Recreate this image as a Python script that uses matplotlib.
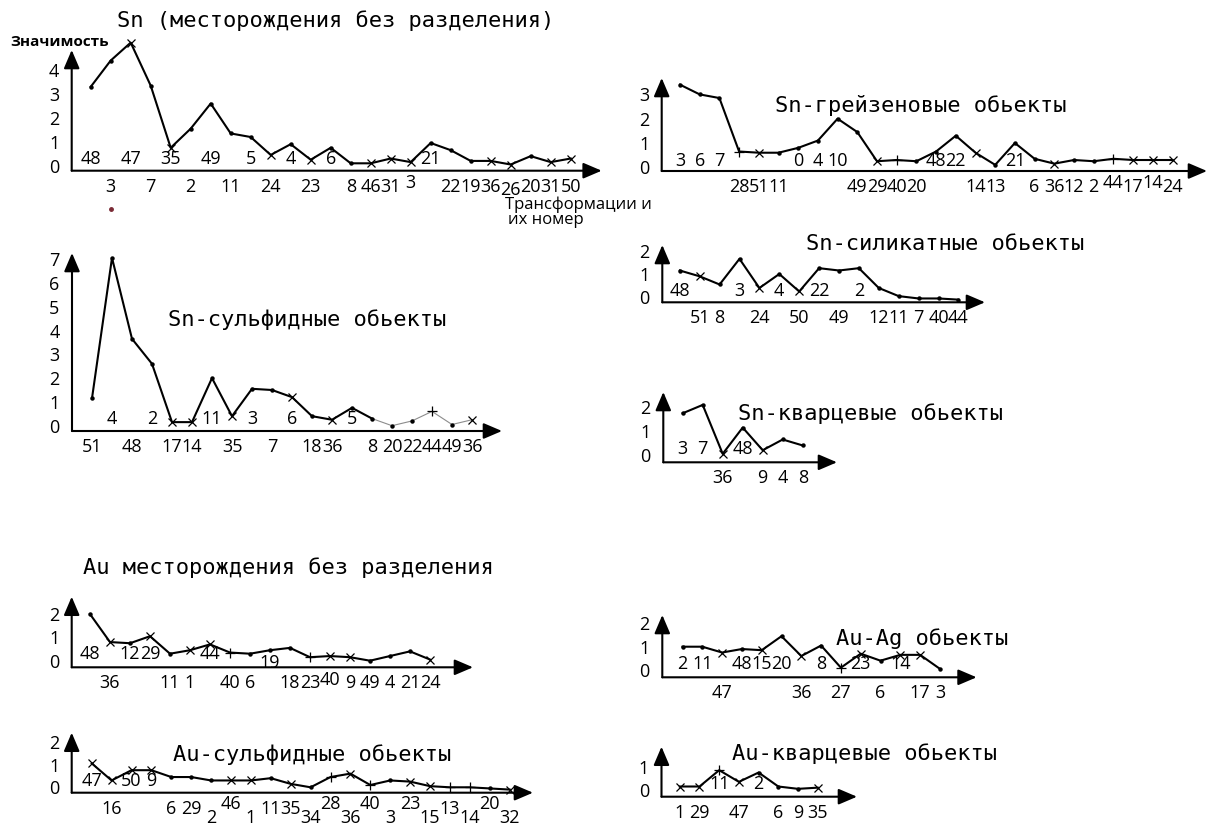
import matplotlib
matplotlib.use('Agg')
import matplotlib.pyplot as plt

W, H = 1215, 826
LABEL_FONT = ['Open Sans', 'DejaVu Sans']
TITLE_FONT = 'DejaVu Sans Mono'

# Sn, all deposits
sn_labels = ['48', '3', '47', '7', '35', '2', '49', '11', '5', '24', '4', '23', '6',
             '8', '46', '31', '3', '21', '22', '19', '36', '26', '20', '31', '50']
sn_values = [3.3, 4.4, 5.15, 3.35, 0.75, 1.55, 2.6, 1.35, 1.2, 0.45, 0.9, 0.25, 0.75,
             0.1, 0.1, 0.3, 0.15, 0.95, 0.65, 0.2, 0.2, 0.05, 0.4, 0.15, 0.3]
sn_marks = '..x.x....x.x..xxx...xx.xx'

# Sn, sulphide objects
sn_sulf_labels = ['51', '4', '48', '2', '17', '14', '11', '35', '3', '7', '6', '18',
                  '36', '5', '8', '20', '22', '44', '49', '36']
sn_sulf_values = [1.15, 7.05, 3.65, 2.6, 0.15, 0.15, 2.0, 0.4, 1.55, 1.5, 1.2, 0.4,
                  0.25, 0.75, 0.3, 0.0, 0.2, 0.6, 0.05, 0.25]
sn_sulf_marks = '....xx.x..x.x....+.x'

# Sn, greisen objects
sn_greis_labels = ['3', '6', '7', '28', '51', '11', '0', '4', '10', '49', '29', '40',
                   '20', '48', '22', '14', '13', '21', '6', '36', '12', '2', '44',
                   '17', '14', '24']
sn_greis_values = [3.4, 3.0, 2.85, 0.65, 0.6, 0.6, 0.8, 1.1, 2.0, 1.45, 0.25, 0.3,
                   0.25, 0.65, 1.3, 0.6, 0.1, 1.0, 0.35, 0.15, 0.3, 0.25, 0.35,
                   0.3, 0.3, 0.3]
sn_greis_marks = '...+x.....x+...x...x..+xxx'

# Sn, silicate objects
sn_sil_labels = ['48', '51', '8', '3', '24', '4', '50', '22', '49', '2', '12', '11',
                 '7', '40', '44']
sn_sil_values = [1.15, 0.9, 0.55, 1.65, 0.4, 1.0, 0.25, 1.25, 1.15, 1.25, 0.4, 0.05,
                 -0.05, -0.05, -0.1]
sn_sil_marks = '.x..x.x........'

# Sn, quartz objects
sn_qz_labels = ['3', '7', '36', '48', '9', '4', '8']
sn_qz_values = [1.75, 2.1, 0.05, 1.15, 0.2, 0.65, 0.4]
sn_qz_marks = '..x.x..'

# Au, all deposits
au_labels = ['48', '36', '12', '29', '11', '1', '44', '40', '6', '19', '18', '23',
             '40', '9', '49', '4', '21', '24']
au_values = [2.0, 0.8, 0.75, 1.05, 0.3, 0.45, 0.7, 0.35, 0.3, 0.45, 0.55, 0.15,
             0.2, 0.15, 0.0, 0.2, 0.4, 0.05]
au_marks = '.x.x.xx+...+xx...x'

# Au, sulphide objects
au_sulf_labels = ['47', '16', '50', '9', '6', '29', '2', '46', '1', '11', '35', '34',
                  '28', '36', '40', '3', '23', '15', '13', '14', '20', '32']
au_sulf_values = [1.05, 0.3, 0.75, 0.75, 0.45, 0.45, 0.3, 0.3, 0.3, 0.4, 0.15, 0.0,
                  0.45, 0.6, 0.1, 0.3, 0.25, 0.05, 0.0, 0.0, -0.05, -0.1]
au_sulf_marks = 'xxxx...xx.x.+x+.xx++.x'

# Au-Ag objects
au_ag_labels = ['2', '11', '47', '48', '15', '20', '36', '8', '27', '23', '6', '14',
                '17', '3']
au_ag_values = [1.0, 1.0, 0.75, 0.9, 0.85, 1.45, 0.6, 1.05, 0.1, 0.7, 0.4, 0.65,
                0.65, 0.05]
au_ag_marks = '..x.x.x.+x.xx.'

# Au, quartz objects
au_qz_labels = ['1', '29', '11', '47', '2', '6', '9', '35']
au_qz_values = [0.15, 0.15, 0.85, 0.35, 0.75, 0.15, 0.05, 0.1]
au_qz_marks = 'xx+x...x'

# label rows: a - above the axis, m - on the zero level, b - under the axis,
# h/l - slightly raised/lowered under the axis, H/L - strongly staggered
ROW_OFFSET = {'a': 6, 'm': 0, 'b': -10, 'h': -7.5, 'l': -12.5, 'H': -6.5, 'L': -17}


def draw_panel(fig, geom, values, marks, labels, rows, ymax, thin_from=None):
    # geom: y-axis x, x-axis y, arrow tops, first point x, step, zero level, unit (px)
    left, base, top, right, x0, step, zero, unit = geom
    ax = fig.add_axes([left / W, 1 - base / H, (right - left) / W, (base - top) / H])
    ax.set_xlim((left - x0) / step, (right - x0) / step)
    ax.set_ylim((zero - base) / unit, (zero - top) / unit)
    ax.patch.set_visible(False)
    for spine in ax.spines.values():
        spine.set_visible(False)
    ax.set_xticks([])
    ax.set_yticks(range(ymax + 1))
    ax.set_yticklabels([str(v) for v in range(ymax + 1)],
                       fontfamily=LABEL_FONT, fontsize=13)
    ax.tick_params(axis='y', length=0, pad=9)

    arrow = dict(arrowstyle='-|>,head_length=0.75,head_width=0.32',
                 mutation_scale=15, lw=1.5, color='k', shrinkA=0, shrinkB=0)
    ax.annotate('', xy=(1, 0), xytext=(0, 0), xycoords='axes fraction',
                arrowprops=arrow)
    ax.annotate('', xy=(0, 1), xytext=(0, 0), xycoords='axes fraction',
                arrowprops=arrow)

    idx = list(range(len(values)))
    end = len(values) if thin_from is None else thin_from + 1
    ax.plot(idx[:end], values[:end], color='k', lw=1.5, clip_on=False)
    if thin_from is not None:
        ax.plot(idx[thin_from:], values[thin_from:], color='#8c8c8c', lw=0.8,
                clip_on=False)

    styles = {'.': dict(marker='o', ms=3.2, mew=0),
              'x': dict(marker='x', ms=5.5, mew=0.9),
              '+': dict(marker='+', ms=6.5, mew=0.9)}
    for sym, st in styles.items():
        xs = [i for i, m in enumerate(marks) if m == sym]
        ys = [values[i] for i in xs]
        ax.plot(xs, ys, ls='none', color='k', clip_on=False, **st)

    ybase = ax.get_ylim()[0]
    for i, (lab, r) in enumerate(zip(labels, rows)):
        y = 0 if r in 'am' else ybase
        ax.annotate(lab, xy=(i, y), xytext=(0, ROW_OFFSET[r]),
                    textcoords='offset points', ha='center',
                    va='center_baseline', fontfamily=LABEL_FONT, fontsize=13)
    return ax


def title(fig, text, cx, cy):
    fig.text(cx / W, 1 - cy / H, text, ha='center', va='center',
             fontfamily=TITLE_FONT, fontsize=15.8)


fig = plt.figure(figsize=(W / 100, H / 100), dpi=100)

ax = draw_panel(fig, (71.7, 170.7, 50, 601.7, 90.7, 20.0, 165.7, 23.9),
                sn_values, sn_marks, sn_labels,
                'ababababababab' + 'bbh' + 'a' + 'bbblbbb', 4)
ax.plot([1], [-1.8], 'o', ms=2.5, color='#7a2a35', clip_on=False)
title(fig, 'Sn (месторождения без разделения)', 336, 21)
fig.text(10 / W, 1 - 42 / H, 'Значимость', ha='left', va='center',
         fontfamily=LABEL_FONT, fontsize=11, fontweight='bold')
fig.text(505 / W, 1 - 205 / H, 'Трансформации и', ha='left', va='center',
         fontfamily=LABEL_FONT, fontsize=12)
fig.text(508 / W, 1 - 220 / H, 'их номер', ha='left', va='center',
         fontfamily=LABEL_FONT, fontsize=12)

draw_panel(fig, (72, 431, 253, 502, 92, 20.0, 425.7, 23.8),
           sn_sulf_values, sn_sulf_marks, sn_sulf_labels,
           'bababbabababbabbbbbb', 7, thin_from=14)
title(fig, 'Sn-сульфидные обьекты', 307, 320)

draw_panel(fig, (661.7, 171, 78, 1207, 680, 19.7, 167.3, 24.3),
           sn_greis_values, sn_greis_marks, sn_greis_labels,
           'aaabbbaaabbbbaabbabbbbhbhb', 3)
title(fig, 'Sn-грейзеновые обьекты', 921, 105)

draw_panel(fig, (662.3, 302.3, 245, 985, 679.8, 19.9, 297.3, 23.3),
           sn_sil_values, sn_sil_marks, sn_sil_labels,
           'abbababababbbbb', 2)
title(fig, 'Sn-силикатные обьекты', 945, 244)

draw_panel(fig, (663.3, 462.3, 392, 837, 682.7, 20.0, 455, 23.85),
           sn_qz_values, sn_qz_marks, sn_qz_labels, 'aababbb', 2)
title(fig, 'Sn-кварцевые обьекты', 870, 414)

draw_panel(fig, (71.7, 667.3, 596.7, 473, 90, 20.0, 660.7, 23.3),
           au_values, au_marks, au_labels,
           'abaabbabbm' + 'bbhbbbbb', 2)
title(fig, 'Au месторождения без разделения', 288, 568)

draw_panel(fig, (71.7, 792.7, 732.7, 533, 91.7, 19.9, 787.3, 22.8),
           au_sulf_values, au_sulf_marks, au_sulf_labels,
           'abaabb' + 'LHL' + 'bb' + 'LHLHLHL' + 'b' + 'LHL', 2)
title(fig, 'Au-сульфидные обьекты', 312, 755)

draw_panel(fig, (662.3, 677.3, 615, 976.6, 682.5, 19.8, 670, 23.3),
           au_ag_values, au_ag_marks, au_ag_labels,
           'aabaaababababb', 2)
title(fig, 'Au-Ag обьекты', 922, 639)

draw_panel(fig, (661.5, 796.7, 746.7, 857, 679.8, 19.7, 790, 23.3),
           au_qz_values, au_qz_marks, au_qz_labels, 'bbababbb', 1)
title(fig, 'Au-кварцевые обьекты', 864, 754)

fig.savefig('out.png', dpi=100)
